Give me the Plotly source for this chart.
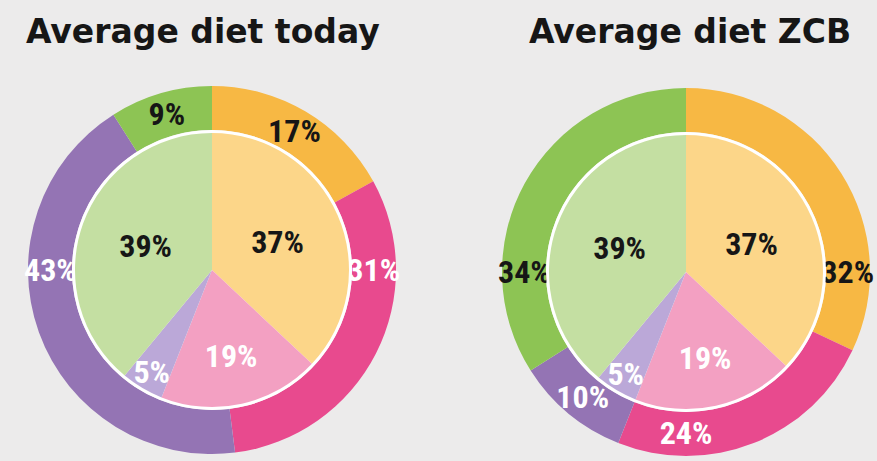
import plotly.graph_objects as go

W, H = 877, 461

titles = ["Average diet today", "Average diet ZCB"]
categories = ["Grains/fruit", "Dairy/eggs", "Meat", "Vegetables"]
inner_values = [37, 19, 5, 39]
outer_today = [17, 31, 43, 9]
outer_zcb = [32, 24, 10, 34]

outer_colors = ["#F7B844", "#E84A8E", "#9474B4", "#8DC454"]
inner_colors = ["#FCD689", "#F3A0C2", "#BBA8D8", "#C4DFA2"]
outer_text_colors = ["#161616", "white", "white", "#161616"]
inner_text_colors = ["#161616", "white", "white", "#161616"]

BG = "#ECEBEB"
FONT = "Liberation Sans Narrow, Roboto Condensed, Roboto, sans-serif"

# pie geometry (pixels)
centers = [(212, 270), (686, 272)]
title_x = [203, 690]
R_OUT = 184
R_RING = 140
R_IN = 137


def domain(cx, cy, r):
    return dict(x=[(cx - r) / W, (cx + r) / W],
                y=[1 - (cy + r) / H, 1 - (cy - r) / H])


fig = go.Figure()
for (cx, cy), outer in zip(centers, [outer_today, outer_zcb]):
    fig.add_trace(go.Pie(
        labels=categories, values=outer, sort=False, direction="clockwise",
        rotation=0, hole=R_RING / R_OUT, domain=domain(cx, cy, R_OUT),
        marker=dict(colors=outer_colors, line=dict(width=0)),
        texttemplate="%{value}%", textposition="inside",
        insidetextorientation="horizontal",
        textfont=dict(family=FONT, size=32, color=outer_text_colors, weight="bold"),
        showlegend=False, hoverinfo="label+value"))
    fig.add_trace(go.Pie(
        labels=["ring"], values=[1], sort=False, domain=domain(cx, cy, R_RING),
        marker=dict(colors=["white"], line=dict(width=0)),
        textinfo="none", showlegend=False, hoverinfo="skip"))
    fig.add_trace(go.Pie(
        labels=categories, values=inner_values, sort=False, direction="clockwise",
        rotation=0, domain=domain(cx, cy, R_IN),
        marker=dict(colors=inner_colors, line=dict(width=0)),
        texttemplate="%{value}%", textposition="inside",
        insidetextorientation="horizontal",
        textfont=dict(family=FONT, size=32, color=inner_text_colors, weight="bold"),
        showlegend=False, hoverinfo="label+value"))

for tx, t in zip(title_x, titles):
    fig.add_annotation(text=t, x=tx / W, y=1 - 32 / H, xref="paper", yref="paper",
                       xanchor="center", yanchor="middle", showarrow=False,
                       font=dict(family="DejaVu Sans, sans-serif",
                                 size=33, color="#161616", weight="bold"))

fig.update_layout(width=W, height=H, margin=dict(l=0, r=0, t=0, b=0),
                  paper_bgcolor=BG, plot_bgcolor=BG,
                  uniformtext=dict(minsize=32, mode="show"))

fig.write_html("out.html", config={"displayModeBar": False},
               post_script="document.body.style.margin='0';"
                           "document.body.style.background='#ECEBEB';")
